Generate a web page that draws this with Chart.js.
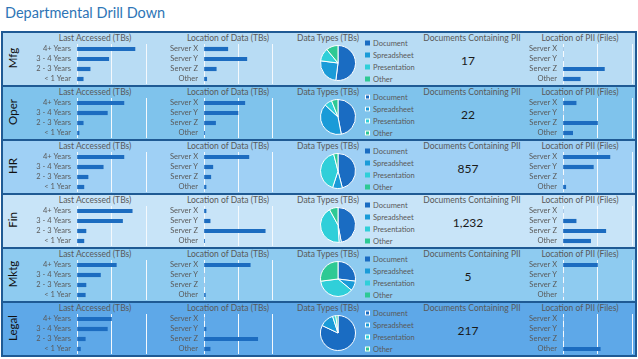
<!DOCTYPE html>
<html>
<head>
<meta charset="utf-8">
<script src="https://cdn.jsdelivr.net/npm/chart.js@4.4.0/dist/chart.umd.min.js"></script>
<style>
  body { margin: 0; background: #fff; width: 638px; height: 359px; overflow: hidden; position: relative; font-family: Lato, "Open Sans", sans-serif; }
  .title { position: absolute; left: 5px; top: 4px; font-size: 14.5px; color: #2e75b6; }
  .row { position: absolute; left: 1px; width: 636px; box-sizing: border-box; border: 2px solid #1f5a94; border-bottom: none; }
  .ctitle { position: absolute; font-size: 8.5px; color: #595959; white-space: nowrap; transform: translate(-50%, -50%); }
  .dept { position: absolute; font-size: 11.5px; color: #111; transform: translate(-50%, -50%) rotate(-90deg); white-space: nowrap; }
  .num { position: absolute; font-size: 12px; color: #1a1a1a; transform: translate(-50%, -50%); }
  .leg { position: absolute; font-size: 7.5px; color: #595959; white-space: nowrap; transform: translateY(-50%); }
  .leg i { display: inline-block; width: 5px; height: 5px; margin-right: 3px; vertical-align: 0px; box-sizing: border-box; }
  canvas { position: absolute; }
</style>
</head>
<body>
<div class="title">Departmental Drill Down</div>
<script>
// ---- data ----
var departments = ['Mfg', 'Oper', 'HR', 'Fin', 'Mktg', 'Legal'];
var ageLabels = ['4+ Years', '3 - 4 Years', '2 - 3 Years', '< 1 Year'];
var serverLabels = ['Server X', 'Server Y', 'Server Z', 'Other'];
var typeLabels = ['Document', 'Spreadsheet', 'Presentation', 'Other'];

var lastAccessed = [
    [84, 46, 19, 9],
    [68, 44, 9, 3],
    [68, 38, 16, 10],
    [80, 66, 13, 10],
    [57, 34, 13, 12],
    [50, 44, 12, 5]
];
var dataLocation = [
    [35, 63, 18, 4],
    [60, 50, 17, 1],
    [66, 13, 10, 3],
    [3, 9, 90, 1],
    [68, 0, 0, 2],
    [0, 3, 79, 9]
];
var dataTypes = [
    [52, 25, 12, 11],
    [47, 40, 7, 6],
    [46, 9, 41, 4],
    [47, 2, 43, 8],
    [27, 9, 37, 27],
    [82, 13, 3, 2]
];
var piiDocs = [17, 22, 857, 1232, 5, 217];
var piiLocation = [
    [0, 0, 60, 25],
    [19, 0, 50, 14],
    [68, 44, 0, 4],
    [0, 19, 62, 40],
    [50, 0, 0, 0],
    [0, 0, 0, 54]
];

var rowColors = ['#b8dcf4', '#7fc3ec', '#9fd0f5', '#c8e4f8', '#8ecbf0', '#5ea8e8'];
var outlinedLegend = [false, true, false, false, false, true];
var barColor = '#1c6cc0';
var pieColors = ['#1a6cc2', '#1a9bd8', '#30cfd9', '#2ec994'];
var gridColor = '#f4f9fd';

//////////////////////Layout////////////////

function addEl(cls, text, x, y) {
    var d = document.createElement('div');
    d.className = cls;
    d.textContent = text;
    d.style.left = x + 'px';
    d.style.top = y + 'px';
    document.body.appendChild(d);
    return d;
}

function addCanvas(x, y, w, h) {
    var c = document.createElement('canvas');
    c.width = w;
    c.height = h;
    c.style.left = x + 'px';
    c.style.top = y + 'px';
    c.style.width = w + 'px';
    c.style.height = h + 'px';
    document.body.appendChild(c);
    return c;
}

function barChart(canvas, labels, values, yWidth) {
    return new Chart(canvas, {
        type: 'bar',
        data: { labels: labels, datasets: [{ data: values, backgroundColor: barColor, barThickness: 3.5 }] },
        options: {
            indexAxis: 'y',
            responsive: false,
            maintainAspectRatio: false,
            animation: false,
            devicePixelRatio: 1,
            layout: { padding: { top: 0, right: 1, bottom: 0, left: 0 } },
            plugins: { legend: { display: false }, tooltip: { enabled: false } },
            scales: {
                x: {
                    min: 0, max: 100,
                    ticks: { display: false, stepSize: 50 },
                    grid: { color: gridColor, lineWidth: 1, drawTicks: false },
                    border: { display: false }
                },
                y: {
                    ticks: { color: '#5a5a5a', font: { family: 'Lato', size: 7.5 }, padding: 6, autoSkip: false },
                    grid: { display: false, drawTicks: false },
                    border: { display: false },
                    afterFit: function (s) {
                        s.width = yWidth;
                        s.paddingTop = 0;    // labels fit inside row, no extra room
                        s.paddingBottom = 0;
                    }
                }
            }
        }
    });
}

function pieChart(canvas, values) {
    return new Chart(canvas, {
        type: 'pie',
        data: { labels: typeLabels, datasets: [{ data: values, backgroundColor: pieColors, borderColor: '#ffffff', borderWidth: 1 }] },
        options: {
            responsive: false,
            maintainAspectRatio: false,
            animation: false,
            devicePixelRatio: 1,
            plugins: { legend: { display: false }, tooltip: { enabled: false } }
        }
    });
}

departments.forEach(function (dept, i) {
    var T = 31 + 54 * i;
    var row = document.createElement('div');
    row.className = 'row';
    row.style.top = T + 'px';
    row.style.height = (i === departments.length - 1 ? 56 : 54) + 'px';
    row.style.background = rowColors[i];
    if (i === departments.length - 1) row.style.borderBottom = '2px solid #1f5a94';
    document.body.appendChild(row);

    addEl('dept', dept, 12, T + 27);

    addEl('ctitle', 'Last Accessed (TBs)', 95, T + 7);
    addEl('ctitle', 'Location of Data (TBs)', 228, T + 7);
    addEl('ctitle', 'Data Types (TBs)', 328, T + 7);
    addEl('ctitle', 'Documents Containing PII', 472, T + 7);
    addEl('ctitle', 'Location of PII (Files)', 580, T + 7);

    barChart(addCanvas(20, T + 13, 127, 40), ageLabels, lastAccessed[i], 57);
    barChart(addCanvas(150, T + 13, 123, 40), serverLabels, dataLocation[i], 54);
    barChart(addCanvas(500, T + 13, 133, 40), serverLabels, piiLocation[i], 63);

    pieChart(addCanvas(320, T + 14, 36, 36), dataTypes[i]);
    typeLabels.forEach(function (lab, k) {
        var d = addEl('leg', lab, 365, T + 12 + k * 12);
        var m = document.createElement('i');
        m.style.background = pieColors[k];
        if (outlinedLegend[i]) m.style.border = '1px solid #ffffff';
        d.insertBefore(m, d.firstChild);
    });

    addEl('num', piiDocs[i].toLocaleString('en-US'), 468, T + 29);
});
</script>
</body>
</html>
